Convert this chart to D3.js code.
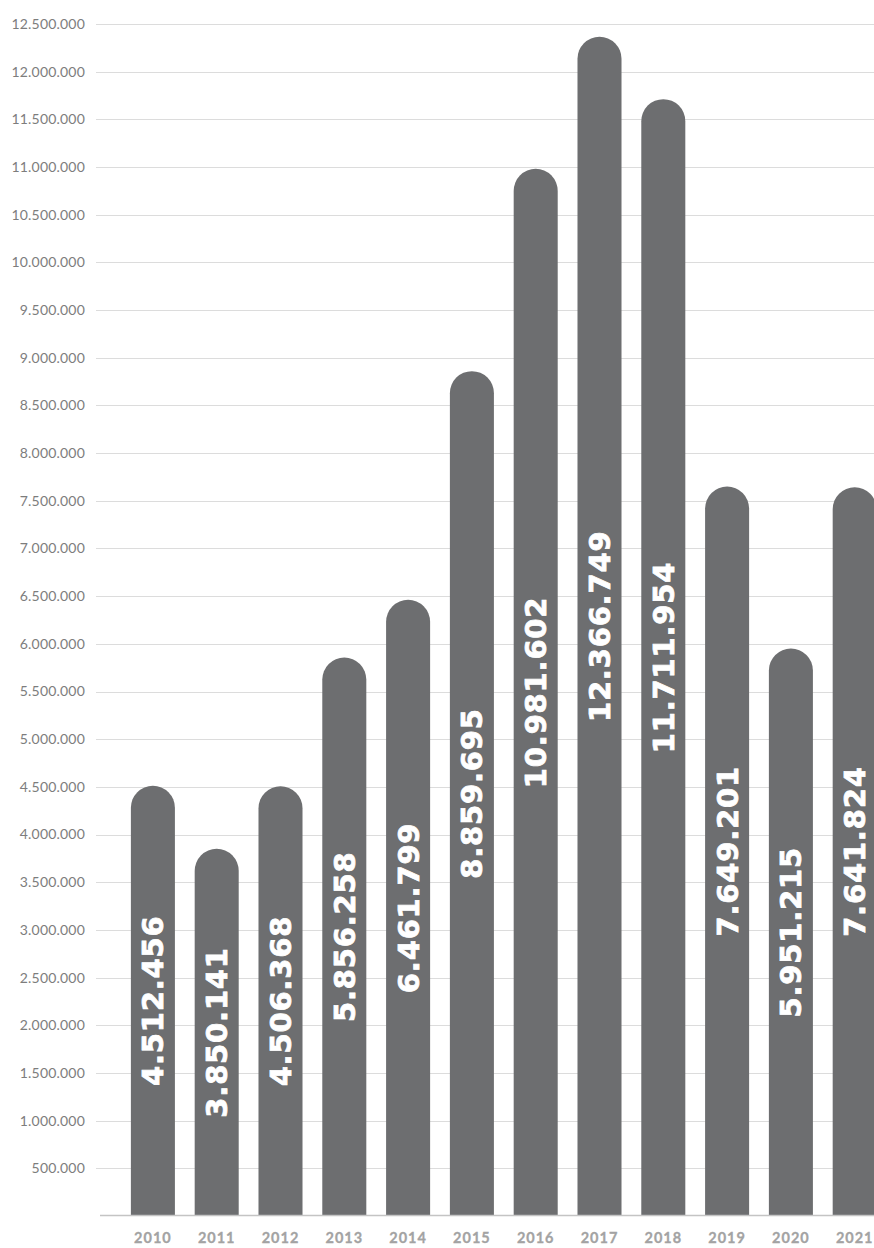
<!DOCTYPE html>
<html>
<head>
<meta charset="utf-8">
<script src="https://cdn.jsdelivr.net/npm/d3@7"></script>
<style>
  html, body { margin: 0; padding: 0; background: #fff; overflow: hidden; }
  svg { display: block; }
</style>
</head>
<body>
<div id="chart"></div>
<script>
// Yearly totals, one bar per year
const years = ["2010", "2011", "2012", "2013", "2014", "2015", "2016", "2017", "2018", "2019", "2020", "2021"];
const totals = [4512456, 3850141, 4506368, 5856258, 6461799, 8859695, 10981602, 12366749, 11711954, 7649201, 5951215, 7641824];
// Gridline / tick values on the value axis
const yTicks = [500000, 1000000, 1500000, 2000000, 2500000, 3000000, 3500000, 4000000, 4500000, 5000000, 5500000, 6000000,
                6500000, 7000000, 7500000, 8000000, 8500000, 9000000, 9500000, 10000000, 10500000, 11000000, 11500000, 12000000, 12500000];

const W = 874, H = 1248;
const barColor = "#6d6e70";

// Dot as thousands separator
const locale = d3.formatLocale({ decimal: ",", thousands: ".", grouping: [3], currency: ["", ""] });
const fmt = locale.format(",d");

const svg = d3.select("#chart").append("svg")
  .attr("width", W).attr("height", H);

const y = d3.scaleLinear().domain([0, 12500000]).range([1216, 24]);
const x = d3.scaleBand().domain(years).range([121, 886.6]).paddingInner(0.31).paddingOuter(0.155);

// Horizontal gridlines
svg.append("g").selectAll("line").data(yTicks).join("line")
  .attr("x1", 96).attr("x2", W)
  .attr("y1", d => Math.round(y(d)) + 0.5).attr("y2", d => Math.round(y(d)) + 0.5)
  .attr("stroke", "#dcdcdc").attr("stroke-width", 1);

// Value axis labels
svg.append("g").selectAll("text").data(yTicks).join("text")
  .attr("x", 85).attr("y", d => y(d))
  .attr("dy", "0.35em")
  .attr("text-anchor", "end")
  .attr("font-family", "Lato, 'Open Sans', sans-serif")
  .attr("font-size", 14)
  .attr("letter-spacing", 0.2)
  .attr("fill", "#7d7d7d")
  .text(d => fmt(d));

// Bars with rounded tops
const bw = x.bandwidth();
const r = bw / 2;
const data = years.map((yr, i) => ({ year: yr, value: totals[i] }));

svg.append("g").selectAll("path").data(data).join("path")
  .attr("fill", barColor)
  .attr("d", d => {
    const x0 = x(d.year), top = y(d.value), base = y(0);
    return `M${x0},${base}V${top + r}A${r},${r} 0 0 1 ${x0 + bw},${top + r}V${base}Z`;
  });

// Baseline
svg.append("line")
  .attr("x1", 100).attr("x2", W)
  .attr("y1", y(0) - 0.5).attr("y2", y(0) - 0.5)
  .attr("stroke", "#c4c4c4").attr("stroke-width", 1.5);

// Value labels, rotated, centred in each bar
svg.append("g").selectAll("text").data(data).join("text")
  .attr("transform", d => `translate(${x(d.year) + bw / 2},${(y(d.value) + y(0)) / 2}) rotate(-90)`)
  .attr("text-anchor", "middle")
  .attr("dy", "0.36em")
  .attr("font-family", "'DejaVu Sans', sans-serif")
  .attr("font-weight", "bold")
  .attr("font-size", 29)
  .attr("letter-spacing", 0.8)
  .attr("fill", "#ffffff")
  .attr("stroke", "#ffffff")
  .attr("stroke-width", 0.8)
  .text(d => fmt(d.value));

// Year labels
svg.append("g").selectAll("text").data(data).join("text")
  .attr("x", d => x(d.year) + bw / 2)
  .attr("y", 1243)
  .attr("text-anchor", "middle")
  .attr("font-family", "Lato, 'Open Sans', sans-serif")
  .attr("font-weight", "bold")
  .attr("font-size", 14.5)
  .attr("letter-spacing", 1)
  .attr("fill", "#a3a3a3")
  .attr("stroke", "#a3a3a3")
  .attr("stroke-width", 0.3)
  .text(d => d.year);
</script>
</body>
</html>
